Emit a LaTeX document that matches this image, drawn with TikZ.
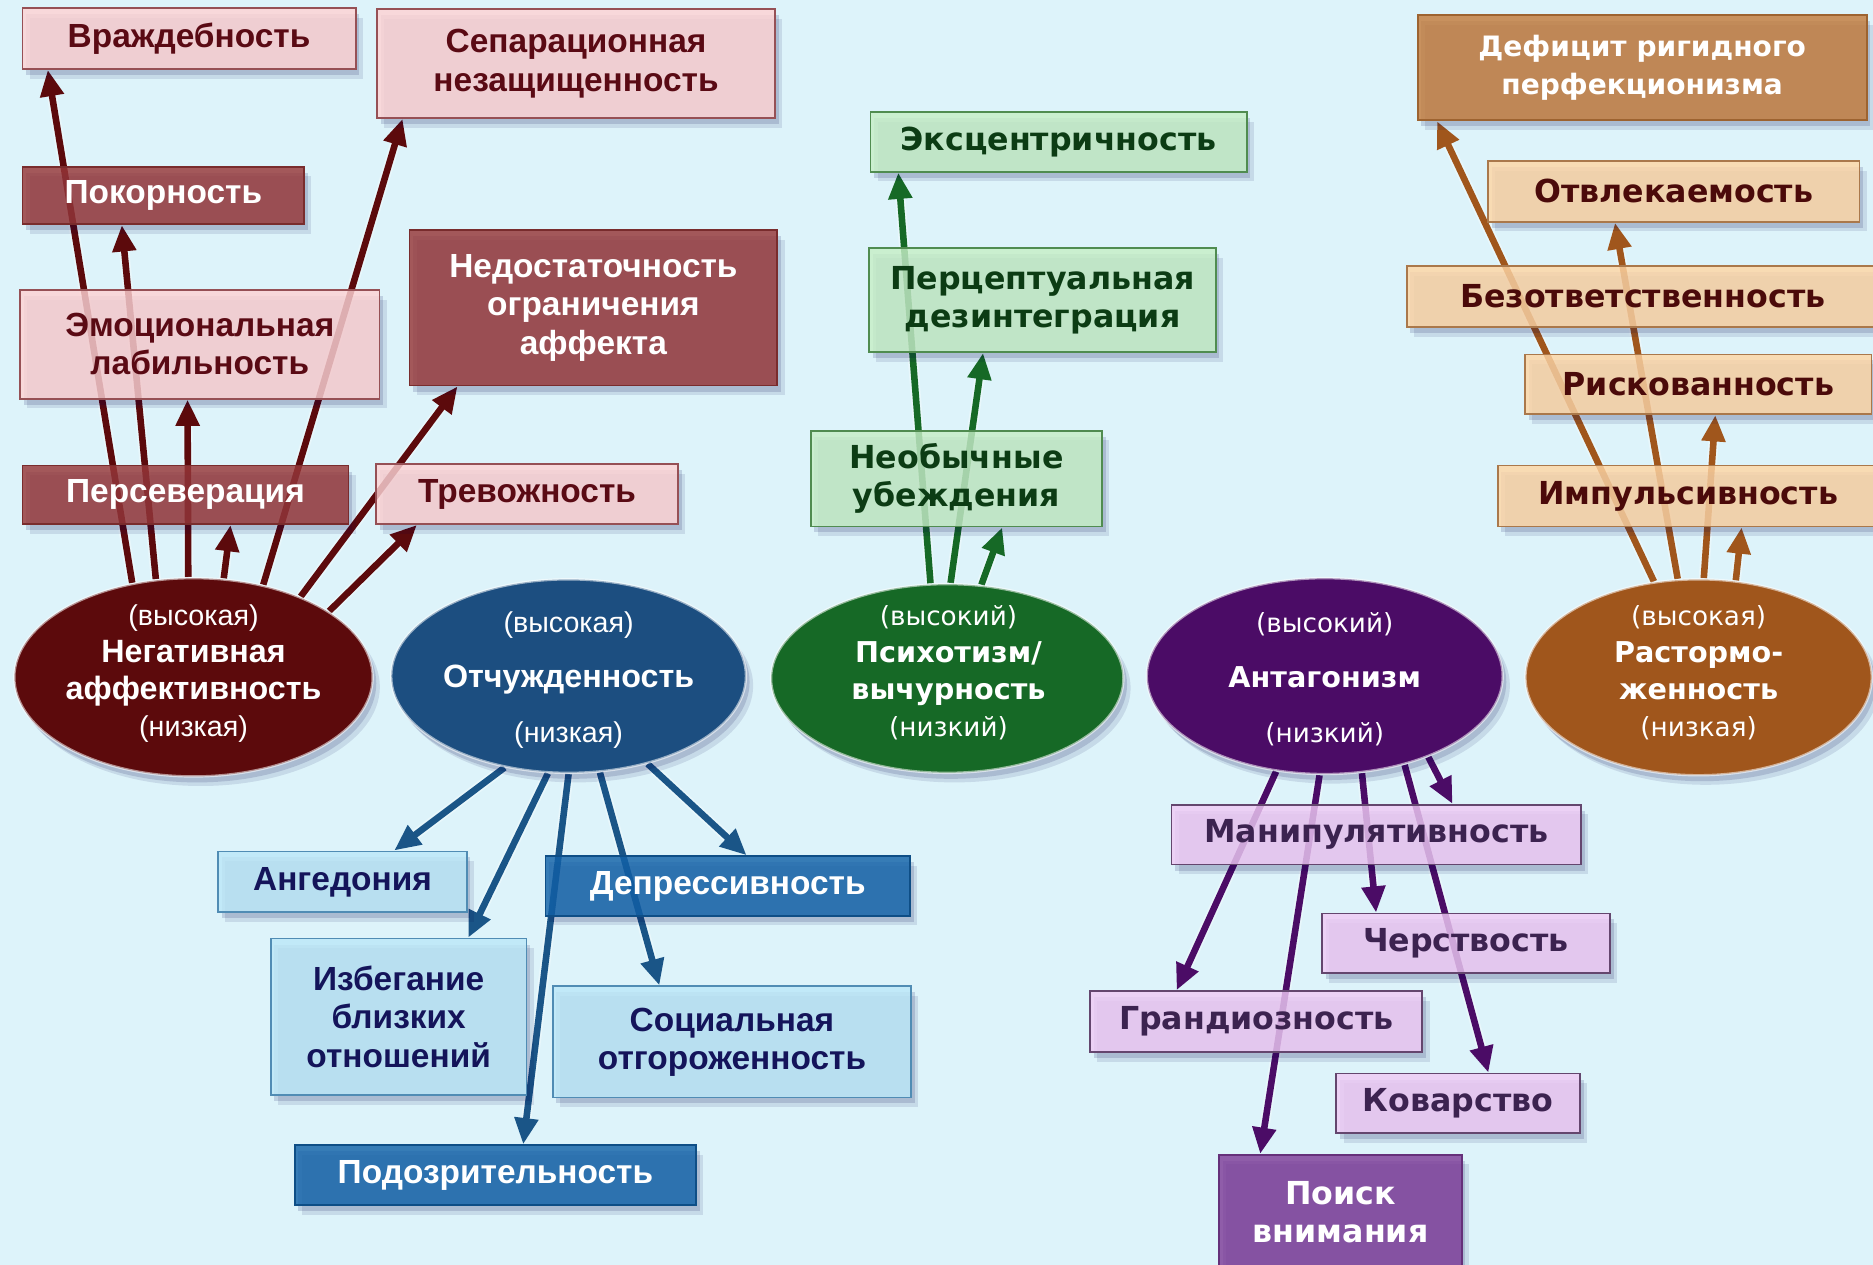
\documentclass[tikz,border=0pt]{standalone}
\usepackage{fontspec}
\setmainfont{Liberation Sans}
\newfontfamily\fv{DejaVu Sans}
\usetikzlibrary{arrows.meta,shapes.geometric,shadows}
\definecolor{bgc}{RGB}{221,243,250}
\definecolor{rell}{RGB}{92,10,12}
\definecolor{rbox}{RGB}{151,55,56}
\definecolor{rpink}{RGB}{255,211,211}
\definecolor{rborder}{RGB}{150,80,85}
\definecolor{rtext}{RGB}{90,10,20}
\definecolor{bell}{RGB}{28,78,128}
\definecolor{barrow}{RGB}{26,85,135}
\definecolor{blight}{RGB}{188,232,248}
\definecolor{bborder}{RGB}{80,140,180}
\definecolor{bdark}{RGB}{18,98,168}
\definecolor{btext}{RGB}{20,20,90}
\definecolor{gell}{RGB}{22,105,38}
\definecolor{glight}{RGB}{198,239,198}
\definecolor{gborder}{RGB}{80,140,80}
\definecolor{gtext}{RGB}{12,60,20}
\definecolor{pell}{RGB}{75,12,102}
\definecolor{plight}{RGB}{240,202,245}
\definecolor{pborder}{RGB}{100,70,110}
\definecolor{pdark}{RGB}{126,60,152}
\definecolor{ptext}{RGB}{60,35,80}
\definecolor{oell}{RGB}{160,86,28}
\definecolor{olight}{RGB}{255,214,164}
\definecolor{oborder}{RGB}{170,120,75}
\definecolor{odark}{RGB}{196,124,60}
\definecolor{otext}{RGB}{75,10,10}
\pgfdeclarelayer{arrowlayer}
\pgfsetlayers{arrowlayer,main}
\begin{document}
\begin{tikzpicture}[x=1pt,y=-1pt,
  shd/.style={drop shadow={shadow xshift=6pt, shadow yshift=-8pt, opacity=.10, fill=black!70!blue},
              drop shadow={shadow xshift=3pt, shadow yshift=-5pt, opacity=.14, fill=black!70!blue}},
  bx/.style={rectangle, anchor=north west, inner sep=0pt, align=center, line width=1.5pt,
    fill opacity=0.82, text opacity=1, shd},
  fa/.style={font=\bfseries\fontsize{28}{32}\selectfont},
  fvs/.style={font=\fv\bfseries\fontsize{26.5}{32}\selectfont},
  pk/.style={bx, fa, fill=rpink, draw=rborder, text=rtext},
  dr/.style={bx, fa, fill=rbox, draw=rbox!80!black, text=white},
  lb/.style={bx, fa, fill=blight, draw=bborder, text=btext},
  db/.style={bx, fa, fill=bdark, draw=bdark!80!black, text=white},
  lg/.style={bx, fvs, fill=glight, draw=gborder, text=gtext},
  lp/.style={bx, fvs, fill=plight, draw=pborder, text=ptext},
  dp/.style={bx, fvs, fill=pdark, draw=pdark!80!black, text=white},
  lo/.style={bx, fvs, fill=olight, draw=oborder, text=otext},
  do/.style={bx, fvs, fill=odark, draw=odark!80!black, text=white},
  ell/.style={ellipse, inner sep=0pt, draw=white, draw opacity=0.55, line width=2pt, shd},
  etxa/.style={align=center, text=white, font=\bfseries\fontsize{27}{31}\selectfont},
  etxv/.style={align=center, text=white, font=\fv\bfseries\fontsize{24}{31}\selectfont},
  arr/.style={line width=5.5pt, -{Triangle[length=22pt,width=19pt]},
    preaction={draw=white, draw opacity=0.35, line width=8.5pt}}
]
\useasboundingbox (0,0) rectangle (1568,1059);
\begin{pgfonlayer}{arrowlayer}
\fill[bgc] (0,0) rectangle (1568,1059);
\end{pgfonlayer}

% ---------- red group ----------
\node[pk, minimum width=279pt, minimum height=51pt] (vrazh) at (18,6) {Враждебность};
\node[pk, minimum width=333pt, minimum height=91pt] (separ) at (315,7) {Сепарационная\\незащищенность};
\node[dr, minimum width=236pt, minimum height=48pt] (pokor) at (18,139) {Покорность};
\node[dr, minimum width=308pt, minimum height=130pt] (nedost) at (342,192) {Недостаточность\\ограничения\\аффекта};
\node[pk, minimum width=301pt, minimum height=91pt] (emoc) at (16,242) {Эмоциональная\\лабильность};
\node[dr, minimum width=273pt, minimum height=49pt] (persev) at (18,389) {Персеверация};
\node[pk, minimum width=253pt, minimum height=50pt] (trevo) at (314,388) {Тревожность};
\node[ell, fill=rell, minimum width=300pt, minimum height=166pt] (neg) at (162,567) {};
\node[etxa] (negT) at (162,564) {{\mdseries\fontsize{24}{31}\selectfont(высокая)}\\Негативная\\аффективность\\{\mdseries\fontsize{24}{31}\selectfont(низкая)}};

% ---------- blue group ----------
\node[lb, minimum width=208pt, minimum height=51pt] (anged) at (182,712) {Ангедония};
\node[db, minimum width=305pt, minimum height=50pt] (depr) at (456,716) {Депрессивность};
\node[lb, minimum width=214pt, minimum height=131pt] (izbeg) at (226,785) {Избегание\\близких\\отношений};
\node[lb, minimum width=300pt, minimum height=93pt] (social) at (462,825) {Социальная\\отгороженность};
\node[db, minimum width=336pt, minimum height=50pt] (podoz) at (246,958) {Подозрительность};
\node[ell, fill=bell, minimum width=297pt, minimum height=162pt] (otch) at (476,566) {};
\node[etxa] (otchT) at (476,569) {{\mdseries\fontsize{24}{31}\selectfont(высокая)}\\[15pt]Отчужденность\\[15pt]{\mdseries\fontsize{24}{31}\selectfont(низкая)}};

% ---------- green group ----------
\node[lg, minimum width=315pt, minimum height=50pt] (ekscen) at (728,93) {Эксцентричность};
\node[lg, minimum width=290pt, minimum height=87pt] (percep) at (727,207) {Перцептуальная\\дезинтеграция};
\node[lg, minimum width=244pt, minimum height=80pt] (neobych) at (678,360) {Необычные\\убеждения};
\node[ell, fill=gell, minimum width=295pt, minimum height=158pt] (psych) at (793,568) {};
\node[etxv] (psychT) at (794,563.5) {{\mdseries\fontsize{22}{31}\selectfont(высокий)}\\Психотизм/\\вычурность\\{\mdseries\fontsize{22}{31}\selectfont(низкий)}};

% ---------- purple group ----------
\node[lp, minimum width=343pt, minimum height=50pt] (manip) at (980,673) {Манипулятивность};
\node[lp, minimum width=241pt, minimum height=50pt] (cherst) at (1106,764) {Черствость};
\node[lp, minimum width=278pt, minimum height=51pt] (grand) at (912,829) {Грандиозность};
\node[lp, minimum width=204pt, minimum height=50pt] (kovar) at (1118,898) {Коварство};
\node[dp, minimum width=203pt, minimum height=96pt] (poisk) at (1020,966) {Поиск\\внимания};
\node[ell, fill=pell, minimum width=298pt, minimum height=164pt] (antag) at (1109,566) {};
\node[etxv] (antagT) at (1109,568.5) {{\mdseries\fontsize{22}{31}\selectfont(высокий)}\\[15pt]Антагонизм\\[15pt]{\mdseries\fontsize{22}{31}\selectfont(низкий)}};

% ---------- orange group ----------
\node[do, minimum width=376pt, minimum height=88pt, font=\fv\bfseries\fontsize{23.5}{32}\selectfont] (defic) at (1186,12) {Дефицит ригидного\\перфекционизма};
\node[lo, minimum width=311pt, minimum height=51pt] (otvl) at (1245,134) {Отвлекаемость};
\node[lo, minimum width=395pt, minimum height=51pt] (bezotv) at (1177,222) {Безответственность};
\node[lo, minimum width=290pt, minimum height=50pt] (risk) at (1276,296) {Рискованность};
\node[lo, minimum width=319pt, minimum height=51pt] (impul) at (1253,389) {Импульсивность};
\node[ell, fill=oell, minimum width=290pt, minimum height=164pt] (rastorm) at (1422,567) {};
\node[etxv] (rastormT) at (1422,563.5) {{\mdseries\fontsize{22}{31}\selectfont(высокая)}\\Растормо-\\женность\\{\mdseries\fontsize{22}{31}\selectfont(низкая)}};

% ---------- connectors ----------
\begin{pgfonlayer}{arrowlayer}
\draw[arr, rell] (neg.123) -- ([xshift=22pt]vrazh.south west);
\draw[arr, rell] (neg.111) -- ([xshift=84pt]pokor.south west);
\draw[arr, rell] (neg.93.5) -- ([xshift=141pt]emoc.south west);
\draw[arr, rell] (neg.73.5) -- ([xshift=175pt]persev.south west);
\draw[arr, rell] (neg.53) -- ([xshift=22pt]separ.south west);
\draw[arr, rell] (neg.37.7) -- ([xshift=41pt]nedost.south west);
\draw[arr, rell] (neg.26.8) -- ([xshift=35pt]trevo.south west);

\draw[arr, barrow] (otch.235) -- ([xshift=148pt]anged.north west);
\draw[arr, barrow] (otch.258.6) -- ([xshift=166pt]izbeg.north west);
\draw[arr, barrow] (otch.270) -- ([xshift=192pt]podoz.north west);
\draw[arr, barrow] (otch.288) -- ([xshift=90pt]social.north west);
\draw[arr, barrow] (otch.312) -- ([xshift=169pt]depr.north west);

\draw[arr, gell] (psych.100.6) -- ([xshift=24pt]ekscen.south west);
\draw[arr, gell] (psych.88) -- ([xshift=96pt]percep.south west);
\draw[arr, gell] (psych.70) -- ([xshift=161pt]neobych.south west);

\draw[arr, pell] (antag.243.4) -- ([xshift=73pt]grand.north west);
\draw[arr, pell] (antag.267.2) -- ([xshift=35pt]poisk.north west);
\draw[arr, pell] (antag.291.6) -- ([xshift=46pt]cherst.north west);
\draw[arr, pell] (antag.312.3) -- ([xshift=128pt]kovar.north west);
\draw[arr, pell] (antag.322) -- ([xshift=236pt]manip.north west);

\draw[arr, oell] (rastorm.115.7) -- ([xshift=17pt]defic.south west);
\draw[arr, oell] (rastorm.102.8) -- ([xshift=107pt]otvl.south west);
\draw[arr, oell] (rastorm.87.1) -- ([xshift=160pt]risk.south west);
\draw[arr, oell] (rastorm.69.4) -- ([xshift=205pt]impul.south west);
\end{pgfonlayer}
\end{tikzpicture}
\end{document}
